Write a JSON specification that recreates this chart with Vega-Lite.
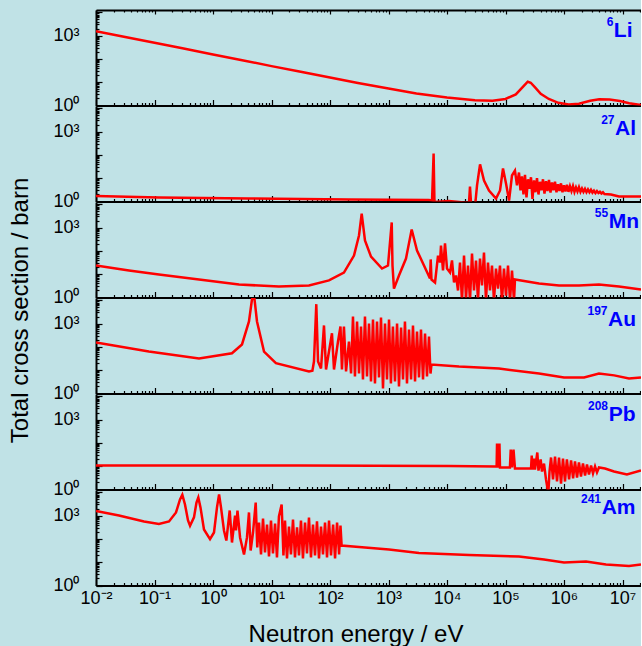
{
"$schema": "https://vega.github.io/schema/vega-lite/v6.json",
"background": "#c0e2e6",
"padding": {"left": 7, "top": 3, "right": 0, "bottom": 0},
"spacing": 0,
"bounds": "flush",
"config": {
  "font": "Liberation Sans",
  "view": {"stroke": null},
  "axis": {"domainColor": "#000000", "domainWidth": 2, "tickColor": "#000000", "tickWidth": 1.2, "grid": false, "labelFont": "Liberation Sans", "labelFontSize": 18, "labelColor": "#000000", "labelOverlap": false, "labelFlush": false, "labelBound": false, "titleFont": "Liberation Sans", "titleFontSize": 24, "titleFontWeight": "normal", "titleColor": "#000000"}
},
"datasets": {
"li": [{"E":0.01,"s":1550},{"E":0.03,"s":895},{"E":0.1,"s":490},{"E":0.3,"s":283},{"E":1,"s":155},{"E":3,"s":90},{"E":10,"s":49},{"E":30,"s":28.5},{"E":100,"s":15.8},{"E":300,"s":9.3},{"E":1000,"s":5.4},{"E":3000,"s":3.3},{"E":10000,"s":2.2},{"E":30000,"s":1.7},{"E":60000,"s":1.6},{"E":100000,"s":1.9},{"E":150000,"s":3.0},{"E":200000,"s":6.5},{"E":240000,"s":10.5},{"E":270000,"s":9.5},{"E":320000,"s":6},{"E":400000,"s":3.2},{"E":550000,"s":1.9},{"E":800000,"s":1.3},{"E":1200000,"s":1.1},{"E":1800000,"s":1.2},{"E":2800000,"s":1.6},{"E":4000000,"s":1.85},{"E":6000000,"s":1.8},{"E":9000000,"s":1.55},{"E":13000000,"s":1.25},{"E":20700000,"s":1.05}],
"al": [{"E":0.01,"s":1.72},{"E":0.119,"s":1.49},{"E":4.12,"s":1.35},{"E":211,"s":1.22},{"E":4900,"s":1.16},{"E":5550,"s":1.1},{"E":5900,"s":115},{"E":6100,"s":0.95},{"E":10800,"s":1.05},{"E":19500,"s":0.9},{"E":23800,"s":0.9},{"E":24700,"s":4.4},{"E":25700,"s":0.9},{"E":30100,"s":0.6},{"E":32600,"s":4.9},{"E":36700,"s":39},{"E":42900,"s":8},{"E":52200,"s":2.97},{"E":68900,"s":1.35},{"E":80600,"s":2.97},{"E":90600,"s":26},{"E":102000,"s":5.9},{"E":115000,"s":1.1},{"E":129000,"s":13},{"E":145000,"s":21},{"E":157000,"s":4.9},{"E":170000,"s":17.5},{"E":180300,"s":3},{"E":191300,"s":12},{"E":202900,"s":2},{"E":215200,"s":14},{"E":228300,"s":1.5},{"E":242200,"s":9},{"E":256900,"s":3.5},{"E":272500,"s":11},{"E":289100,"s":1.3},{"E":306700,"s":8},{"E":325300,"s":2.5},{"E":345100,"s":10},{"E":366100,"s":2},{"E":388300,"s":7},{"E":411900,"s":3},{"E":437000,"s":9},{"E":463500,"s":2.2},{"E":491700,"s":7.5},{"E":521600,"s":2.8},{"E":553300,"s":8.5},{"E":587000,"s":2.4},{"E":622700,"s":6.5},{"E":660500,"s":3},{"E":700700,"s":7},{"E":743300,"s":2.5},{"E":788500,"s":5.5},{"E":836400,"s":2.8},{"E":887300,"s":6},{"E":941200,"s":2.5},{"E":998400,"s":5},{"E":1059000,"s":2.7},{"E":1123000,"s":5.2},{"E":1192000,"s":2.6},{"E":1264000,"s":4.5},{"E":1341000,"s":2.8},{"E":1423000,"s":4.6},{"E":1509000,"s":2.6},{"E":1601000,"s":4},{"E":1698000,"s":2.7},{"E":1801000,"s":4.1},{"E":1911000,"s":2.6},{"E":2027000,"s":3.6},{"E":2150000,"s":2.6},{"E":2281000,"s":3.5},{"E":2420000,"s":2.5},{"E":2567000,"s":3.3},{"E":2723000,"s":2.5},{"E":2888000,"s":3.2},{"E":3064000,"s":2.4},{"E":3250000,"s":2.9},{"E":3448000,"s":2.3},{"E":3657000,"s":2.8},{"E":3880000,"s":2.3},{"E":4116000,"s":2.6},{"E":4366000,"s":2.2},{"E":4631000,"s":2.5},{"E":4913000,"s":2.1},{"E":6350000,"s":2.0},{"E":8700000,"s":1.64},{"E":12900000,"s":1.64},{"E":20700000,"s":1.64}],
"mn": [{"E":0.01,"s":23.6},{"E":0.0366,"s":14.4},{"E":0.119,"s":9.7},{"E":0.577,"s":5.9},{"E":2.78,"s":3.6},{"E":13.4,"s":2.96},{"E":43.7,"s":3.27},{"E":96,"s":5.4},{"E":173,"s":11.8},{"E":257,"s":63},{"E":313,"s":458},{"E":348,"s":4000},{"E":396,"s":280},{"E":502,"s":57},{"E":774,"s":17.5},{"E":980,"s":23.6},{"E":1135,"s":1660},{"E":1170,"s":23.6},{"E":1240,"s":2.4},{"E":1510,"s":8.8},{"E":1990,"s":47},{"E":2490,"s":830},{"E":3070,"s":104},{"E":4040,"s":23.6},{"E":5120,"s":6.5},{"E":5260,"s":43},{"E":5430,"s":5.9},{"E":6240,"s":4.4},{"E":7020,"s":63},{"E":7590,"s":31.7},{"E":7890,"s":170},{"E":8540,"s":14.4},{"E":9240,"s":208},{"E":10000,"s":17.5},{"E":11250,"s":11.8},{"E":12170,"s":38.8},{"E":13180,"s":4.4},{"E":14260,"s":8.8},{"E":15420,"s":2.0},{"E":16680,"s":31.7},{"E":18040,"s":0.74},{"E":19530,"s":63},{"E":21130,"s":0.9},{"E":22850,"s":23.6},{"E":24720,"s":0.74},{"E":26740,"s":77},{"E":28930,"s":2},{"E":31300,"s":38.8},{"E":33860,"s":0.74},{"E":36630,"s":47},{"E":39630,"s":3.27},{"E":42870,"s":85},{"E":46380,"s":0.74},{"E":50180,"s":31.7},{"E":54290,"s":2},{"E":58730,"s":23.6},{"E":63530,"s":0.74},{"E":68730,"s":17.5},{"E":74360,"s":2.4},{"E":80440,"s":23.6},{"E":87020,"s":0.74},{"E":94150,"s":17.5},{"E":101900,"s":1.2},{"E":110300,"s":23.6},{"E":119300,"s":0.74},{"E":129100,"s":14.4},{"E":139600,"s":0.74},{"E":145200,"s":5.9},{"E":374000,"s":4.0},{"E":822000,"s":3.27},{"E":1800000,"s":3.27},{"E":3960000,"s":3.6},{"E":8700000,"s":2.96},{"E":20700000,"s":2.2}],
"au": [{"E":0.01,"s":155},{"E":0.08,"s":63},{"E":0.577,"s":32},{"E":2.11,"s":53},{"E":3.13,"s":127},{"E":4.12,"s":1230},{"E":4.9,"s":30000},{"E":5.65,"s":1230},{"E":7.45,"s":63},{"E":11.9,"s":20},{"E":43.7,"s":8.8},{"E":50,"s":9.5},{"E":53.2,"s":23.6},{"E":58.3,"s":6800},{"E":62.4,"s":23.6},{"E":70.2,"s":11.8},{"E":78.9,"s":830},{"E":85.5,"s":10.7},{"E":108,"s":385},{"E":117,"s":10.7},{"E":137,"s":170},{"E":151,"s":750},{"E":160,"s":10.7},{"E":173,"s":750},{"E":188,"s":8.8},{"E":211,"s":170},{"E":229,"s":7.2},{"E":247,"s":2000},{"E":267,"s":5.4},{"E":290,"s":1230},{"E":313,"s":7.2},{"E":339,"s":750},{"E":366,"s":4.0},{"E":396,"s":2000},{"E":429,"s":5.4},{"E":464,"s":1000},{"E":502,"s":3.27},{"E":543,"s":1500},{"E":587,"s":2.7},{"E":636,"s":1230},{"E":688,"s":4.9},{"E":744,"s":1800},{"E":805,"s":1.64},{"E":871,"s":1000},{"E":942,"s":4.0},{"E":1020,"s":1500},{"E":1100,"s":2.7},{"E":1190,"s":750},{"E":1290,"s":3.27},{"E":1400,"s":1000},{"E":1510,"s":2.0},{"E":1640,"s":680},{"E":1770,"s":4.0},{"E":1910,"s":1230},{"E":2070,"s":2.7},{"E":2240,"s":560},{"E":2430,"s":4.0},{"E":2620,"s":830},{"E":2840,"s":3.27},{"E":3070,"s":458},{"E":3320,"s":4.9},{"E":3590,"s":560},{"E":3890,"s":4.0},{"E":4210,"s":375},{"E":4550,"s":5.4},{"E":4920,"s":280},{"E":5220,"s":7.2},{"E":5430,"s":17.6},{"E":16000,"s":14.4},{"E":77400,"s":11.8},{"E":374000,"s":7.2},{"E":1000000,"s":4.9},{"E":2200000,"s":4.9},{"E":3960000,"s":7.2},{"E":7200000,"s":6.0},{"E":12900000,"s":4.4},{"E":20700000,"s":4.9}],
"pb": [{"E":0.01,"s":10.7},{"E":29.5,"s":10.7},{"E":10800,"s":10.2},{"E":68900,"s":9.7},{"E":70500,"s":9.7},{"E":71600,"s":94},{"E":72500,"s":9.7},{"E":77500,"s":9.7},{"E":78800,"s":94},{"E":80500,"s":8.8},{"E":119000,"s":8.8},{"E":122800,"s":52},{"E":129000,"s":8.8},{"E":137000,"s":52},{"E":145000,"s":8},{"E":273000,"s":8},{"E":280600,"s":28.7},{"E":289700,"s":7.2},{"E":307000,"s":21},{"E":319000,"s":7.2},{"E":349700,"s":38.8},{"E":366000,"s":6.5},{"E":399000,"s":19.4},{"E":420000,"s":5.9},{"E":455000,"s":13},{"E":492000,"s":2.7},{"E":539000,"s":0.67},{"E":565000,"s":5.9},{"E":600000,"s":23.6},{"E":649000,"s":2.7},{"E":702000,"s":26},{"E":759000,"s":2.2},{"E":822000,"s":23.6},{"E":889000,"s":1.8},{"E":961000,"s":21.4},{"E":1040000,"s":2.2},{"E":1120000,"s":19.4},{"E":1220000,"s":2.7},{"E":1320000,"s":17.6},{"E":1430000,"s":3.0},{"E":1540000,"s":16},{"E":1670000,"s":3.27},{"E":1800000,"s":14.4},{"E":1950000,"s":3.6},{"E":2110000,"s":13},{"E":2290000,"s":4.0},{"E":2470000,"s":11.8},{"E":2670000,"s":4.4},{"E":2900000,"s":10.7},{"E":3130000,"s":4.9},{"E":3390000,"s":9.7},{"E":3660000,"s":5.4},{"E":3960000,"s":8.8},{"E":5020000,"s":8},{"E":7160000,"s":5.9},{"E":11900000,"s":4.4},{"E":20700000,"s":6.5}],
"am": [{"E":0.01,"s":1570},{"E":0.0247,"s":1000},{"E":0.0662,"s":560},{"E":0.119,"s":435},{"E":0.177,"s":560},{"E":0.233,"s":1360},{"E":0.273,"s":4900},{"E":0.299,"s":7800},{"E":0.332,"s":3000},{"E":0.374,"s":620},{"E":0.405,"s":366},{"E":0.473,"s":840},{"E":0.522,"s":3640},{"E":0.561,"s":5990},{"E":0.611,"s":2240},{"E":0.701,"s":253},{"E":0.889,"s":97},{"E":1.04,"s":188},{"E":1.17,"s":2240},{"E":1.27,"s":8100},{"E":1.37,"s":2240},{"E":1.54,"s":230},{"E":1.69,"s":85},{"E":1.93,"s":1650},{"E":2.11,"s":70},{"E":2.38,"s":1000},{"E":2.47,"s":230},{"E":2.62,"s":1650},{"E":2.9,"s":115},{"E":3.39,"s":21.4},{"E":3.81,"s":115},{"E":4.12,"s":1360},{"E":4.4,"s":31.7},{"E":4.83,"s":188},{"E":5.37,"s":3640},{"E":5.71,"s":42.8},{"E":6.11,"s":505},{"E":6.62,"s":21.4},{"E":7.16,"s":750},{"E":7.74,"s":26},{"E":8.38,"s":415},{"E":9.06,"s":17.6},{"E":9.8,"s":615},{"E":10.6,"s":23.6},{"E":11.5,"s":458},{"E":12.4,"s":15.9},{"E":13.4,"s":915},{"E":14.9,"s":3000},{"E":16.0,"s":19.4},{"E":17.0,"s":615},{"E":18.4,"s":14.4},{"E":19.9,"s":340},{"E":21.5,"s":21.4},{"E":23.3,"s":680},{"E":25.2,"s":15.9},{"E":27.3,"s":310},{"E":29.5,"s":19.4},{"E":31.9,"s":615},{"E":34.5,"s":14.4},{"E":37.4,"s":505},{"E":40.4,"s":23.6},{"E":43.7,"s":830},{"E":47.3,"s":15.9},{"E":51.2,"s":415},{"E":55.4,"s":19.4},{"E":59.9,"s":560},{"E":64.8,"s":14.4},{"E":70.2,"s":340},{"E":75.9,"s":21.4},{"E":82.2,"s":505},{"E":88.9,"s":15.9},{"E":96.2,"s":615},{"E":104,"s":19.4},{"E":113,"s":415},{"E":122,"s":14.4},{"E":132,"s":505},{"E":143,"s":21.4},{"E":151,"s":375},{"E":158,"s":52},{"E":313,"s":45},{"E":1020,"s":35},{"E":3320,"s":24.8},{"E":23800,"s":20.3},{"E":170000,"s":17.6},{"E":455000,"s":13},{"E":1000000,"s":9.7},{"E":2380000,"s":10.7},{"E":5220000,"s":8},{"E":12900000,"s":6.9},{"E":20700000,"s":8}]
},
"vconcat": [
{
 "width": 545, "height": 95.5,
 "data": {"name": "li"},
 "resolve": {"axis": {"x": "independent"}},
 "layer": [
  {"mark": {"type": "line", "color": "#ff0000", "strokeWidth": 2.5, "clip": true},
   "encoding": {
    "x": {"field": "E", "type": "quantitative", "scale": {"type": "log", "domain": [0.01, 20700000], "nice": false},
      "axis": {"orient": "bottom", "values": [0.01,0.02,0.03,0.04,0.05,0.06,0.07,0.08,0.09,0.1,0.2,0.3,0.4,0.5,0.6,0.7,0.8,0.9,1,2,3,4,5,6,7,8,9,10,20,30,40,50,60,70,80,90,100,200,300,400,500,600,700,800,900,1000,2000,3000,4000,5000,6000,7000,8000,9000,10000,20000,30000,40000,50000,60000,70000,80000,90000,100000,200000,300000,400000,500000,600000,700000,800000,900000,1000000,2000000,3000000,4000000,5000000,6000000,7000000,8000000,9000000,10000000,20000000], "labels": false, "title": null,
        "tickSize": {"condition": {"test": "abs(log(datum.value)/LN10 - round(log(datum.value)/LN10)) < 0.001", "value": -6}, "value": -3}}},
    "y": {"field": "s", "type": "quantitative", "scale": {"type": "log", "domain": [1, 12500], "nice": false},
      "axis": {"orient": "left", "values": [1,2,3,4,5,6,7,8,9,10,20,30,40,50,60,70,80,90,100,200,300,400,500,600,700,800,900,1000,2000,3000,4000,5000,6000,7000,8000,9000,10000], "labelExpr": "datum.value == 1 ? '10⁰' : datum.value == 1000 ? '10³' : ''", "labelPadding": 23, "title": null,
        "tickSize": {"condition": {"test": "abs(log(datum.value)/LN10 - round(log(datum.value)/LN10)) < 0.001", "value": -6}, "value": -3}}}
   }},
  {"data": {"values": [{}]},
   "mark": {"type": "text", "align": "right", "baseline": "alphabetic", "fontWeight": "bold", "fontSize": 21, "color": "#0000ff"},
   "encoding": {
    "x": {"datum": 14800000, "type": "quantitative",
      "axis": {"orient": "top", "values": [0.01,0.02,0.03,0.04,0.05,0.06,0.07,0.08,0.09,0.1,0.2,0.3,0.4,0.5,0.6,0.7,0.8,0.9,1,2,3,4,5,6,7,8,9,10,20,30,40,50,60,70,80,90,100,200,300,400,500,600,700,800,900,1000,2000,3000,4000,5000,6000,7000,8000,9000,10000,20000,30000,40000,50000,60000,70000,80000,90000,100000,200000,300000,400000,500000,600000,700000,800000,900000,1000000,2000000,3000000,4000000,5000000,6000000,7000000,8000000,9000000,10000000,20000000], "labels": false, "title": null,
        "tickSize": {"condition": {"test": "abs(log(datum.value)/LN10 - round(log(datum.value)/LN10)) < 0.001", "value": -4}, "value": -2}}},
    "y": {"datum": 871, "type": "quantitative", "title": null},
    "text": {"value": "Li"}}},
  {"data": {"values": [{}]},
   "mark": {"type": "text", "align": "right", "baseline": "alphabetic", "fontWeight": "bold", "fontSize": 12, "color": "#0000ff", "dx": -19, "dy": -11},
   "encoding": {
    "x": {"datum": 14800000, "type": "quantitative", "axis": null},
    "y": {"datum": 871, "type": "quantitative", "title": null},
    "text": {"value": "6"}}}
 ]
},
{
 "width": 545, "height": 95.5,
 "data": {"name": "al"},
 "layer": [
  {"mark": {"type": "line", "color": "#ff0000", "strokeWidth": 2.5, "clip": true},
   "encoding": {
    "x": {"field": "E", "type": "quantitative", "scale": {"type": "log", "domain": [0.01, 20700000], "nice": false},
      "axis": {"orient": "bottom", "values": [0.01,0.02,0.03,0.04,0.05,0.06,0.07,0.08,0.09,0.1,0.2,0.3,0.4,0.5,0.6,0.7,0.8,0.9,1,2,3,4,5,6,7,8,9,10,20,30,40,50,60,70,80,90,100,200,300,400,500,600,700,800,900,1000,2000,3000,4000,5000,6000,7000,8000,9000,10000,20000,30000,40000,50000,60000,70000,80000,90000,100000,200000,300000,400000,500000,600000,700000,800000,900000,1000000,2000000,3000000,4000000,5000000,6000000,7000000,8000000,9000000,10000000,20000000], "labels": false, "title": null,
        "tickSize": {"condition": {"test": "abs(log(datum.value)/LN10 - round(log(datum.value)/LN10)) < 0.001", "value": -6}, "value": -3}}},
    "y": {"field": "s", "type": "quantitative", "scale": {"type": "log", "domain": [1, 12500], "nice": false},
      "axis": {"orient": "left", "values": [1,2,3,4,5,6,7,8,9,10,20,30,40,50,60,70,80,90,100,200,300,400,500,600,700,800,900,1000,2000,3000,4000,5000,6000,7000,8000,9000,10000], "labelExpr": "datum.value == 1 ? '10⁰' : datum.value == 1000 ? '10³' : ''", "labelPadding": 23, "title": null,
        "tickSize": {"condition": {"test": "abs(log(datum.value)/LN10 - round(log(datum.value)/LN10)) < 0.001", "value": -6}, "value": -3}}}
   }},
  {"data": {"values": [{}]},
   "mark": {"type": "text", "align": "right", "baseline": "alphabetic", "fontWeight": "bold", "fontSize": 21, "color": "#0000ff"},
   "encoding": {"x": {"datum": 17000000, "type": "quantitative", "title": null}, "y": {"datum": 680, "type": "quantitative", "title": null}, "text": {"value": "Al"}}},
  {"data": {"values": [{}]},
   "mark": {"type": "text", "align": "right", "baseline": "alphabetic", "fontWeight": "bold", "fontSize": 12, "color": "#0000ff", "dx": -21.5, "dy": -11},
   "encoding": {"x": {"datum": 17000000, "type": "quantitative", "title": null}, "y": {"datum": 680, "type": "quantitative", "title": null}, "text": {"value": "27"}}}
 ]
},
{
 "width": 545, "height": 95.5,
 "data": {"name": "mn"},
 "layer": [
  {"mark": {"type": "line", "color": "#ff0000", "strokeWidth": 2.5, "clip": true},
   "encoding": {
    "x": {"field": "E", "type": "quantitative", "scale": {"type": "log", "domain": [0.01, 20700000], "nice": false},
      "axis": {"orient": "bottom", "values": [0.01,0.02,0.03,0.04,0.05,0.06,0.07,0.08,0.09,0.1,0.2,0.3,0.4,0.5,0.6,0.7,0.8,0.9,1,2,3,4,5,6,7,8,9,10,20,30,40,50,60,70,80,90,100,200,300,400,500,600,700,800,900,1000,2000,3000,4000,5000,6000,7000,8000,9000,10000,20000,30000,40000,50000,60000,70000,80000,90000,100000,200000,300000,400000,500000,600000,700000,800000,900000,1000000,2000000,3000000,4000000,5000000,6000000,7000000,8000000,9000000,10000000,20000000], "labels": false, "title": null,
        "tickSize": {"condition": {"test": "abs(log(datum.value)/LN10 - round(log(datum.value)/LN10)) < 0.001", "value": -6}, "value": -3}}},
    "y": {"field": "s", "type": "quantitative", "scale": {"type": "log", "domain": [1, 12500], "nice": false},
      "axis": {"orient": "left", "values": [1,2,3,4,5,6,7,8,9,10,20,30,40,50,60,70,80,90,100,200,300,400,500,600,700,800,900,1000,2000,3000,4000,5000,6000,7000,8000,9000,10000], "labelExpr": "datum.value == 1 ? '10⁰' : datum.value == 1000 ? '10³' : ''", "labelPadding": 23,
        "title": "Total cross section / barn", "titleAngle": 270, "titleX": -69, "titleY": 108, "titleBaseline": "alphabetic", "titleAlign": "center",
        "tickSize": {"condition": {"test": "abs(log(datum.value)/LN10 - round(log(datum.value)/LN10)) < 0.001", "value": -6}, "value": -3}}}
   }},
  {"data": {"values": [{}]},
   "mark": {"type": "text", "align": "right", "baseline": "alphabetic", "fontWeight": "bold", "fontSize": 21, "color": "#0000ff"},
   "encoding": {"x": {"datum": 19200000, "type": "quantitative", "title": null}, "y": {"datum": 990, "type": "quantitative", "title": null}, "text": {"value": "Mn"}}},
  {"data": {"values": [{}]},
   "mark": {"type": "text", "align": "right", "baseline": "alphabetic", "fontWeight": "bold", "fontSize": 12, "color": "#0000ff", "dx": -31, "dy": -11},
   "encoding": {"x": {"datum": 19200000, "type": "quantitative", "title": null}, "y": {"datum": 990, "type": "quantitative", "title": null}, "text": {"value": "55"}}}
 ]
},
{
 "width": 545, "height": 95.5,
 "data": {"name": "au"},
 "layer": [
  {"mark": {"type": "line", "color": "#ff0000", "strokeWidth": 2.5, "clip": true},
   "encoding": {
    "x": {"field": "E", "type": "quantitative", "scale": {"type": "log", "domain": [0.01, 20700000], "nice": false},
      "axis": {"orient": "bottom", "values": [0.01,0.02,0.03,0.04,0.05,0.06,0.07,0.08,0.09,0.1,0.2,0.3,0.4,0.5,0.6,0.7,0.8,0.9,1,2,3,4,5,6,7,8,9,10,20,30,40,50,60,70,80,90,100,200,300,400,500,600,700,800,900,1000,2000,3000,4000,5000,6000,7000,8000,9000,10000,20000,30000,40000,50000,60000,70000,80000,90000,100000,200000,300000,400000,500000,600000,700000,800000,900000,1000000,2000000,3000000,4000000,5000000,6000000,7000000,8000000,9000000,10000000,20000000], "labels": false, "title": null,
        "tickSize": {"condition": {"test": "abs(log(datum.value)/LN10 - round(log(datum.value)/LN10)) < 0.001", "value": -6}, "value": -3}}},
    "y": {"field": "s", "type": "quantitative", "scale": {"type": "log", "domain": [1, 12500], "nice": false},
      "axis": {"orient": "left", "values": [1,2,3,4,5,6,7,8,9,10,20,30,40,50,60,70,80,90,100,200,300,400,500,600,700,800,900,1000,2000,3000,4000,5000,6000,7000,8000,9000,10000], "labelExpr": "datum.value == 1 ? '10⁰' : datum.value == 1000 ? '10³' : ''", "labelPadding": 23, "title": null,
        "tickSize": {"condition": {"test": "abs(log(datum.value)/LN10 - round(log(datum.value)/LN10)) < 0.001", "value": -6}, "value": -3}}}
   }},
  {"data": {"values": [{}]},
   "mark": {"type": "text", "align": "right", "baseline": "alphabetic", "fontWeight": "bold", "fontSize": 21, "color": "#0000ff"},
   "encoding": {"x": {"datum": 17000000, "type": "quantitative", "title": null}, "y": {"datum": 750, "type": "quantitative", "title": null}, "text": {"value": "Au"}}},
  {"data": {"values": [{}]},
   "mark": {"type": "text", "align": "right", "baseline": "alphabetic", "fontWeight": "bold", "fontSize": 12, "color": "#0000ff", "dx": -28.5, "dy": -11},
   "encoding": {"x": {"datum": 17000000, "type": "quantitative", "title": null}, "y": {"datum": 750, "type": "quantitative", "title": null}, "text": {"value": "197"}}}
 ]
},
{
 "width": 545, "height": 95.5,
 "data": {"name": "pb"},
 "layer": [
  {"mark": {"type": "line", "color": "#ff0000", "strokeWidth": 2.5, "clip": true},
   "encoding": {
    "x": {"field": "E", "type": "quantitative", "scale": {"type": "log", "domain": [0.01, 20700000], "nice": false},
      "axis": {"orient": "bottom", "values": [0.01,0.02,0.03,0.04,0.05,0.06,0.07,0.08,0.09,0.1,0.2,0.3,0.4,0.5,0.6,0.7,0.8,0.9,1,2,3,4,5,6,7,8,9,10,20,30,40,50,60,70,80,90,100,200,300,400,500,600,700,800,900,1000,2000,3000,4000,5000,6000,7000,8000,9000,10000,20000,30000,40000,50000,60000,70000,80000,90000,100000,200000,300000,400000,500000,600000,700000,800000,900000,1000000,2000000,3000000,4000000,5000000,6000000,7000000,8000000,9000000,10000000,20000000], "labels": false, "title": null,
        "tickSize": {"condition": {"test": "abs(log(datum.value)/LN10 - round(log(datum.value)/LN10)) < 0.001", "value": -6}, "value": -3}}},
    "y": {"field": "s", "type": "quantitative", "scale": {"type": "log", "domain": [1, 12500], "nice": false},
      "axis": {"orient": "left", "values": [1,2,3,4,5,6,7,8,9,10,20,30,40,50,60,70,80,90,100,200,300,400,500,600,700,800,900,1000,2000,3000,4000,5000,6000,7000,8000,9000,10000], "labelExpr": "datum.value == 1 ? '10⁰' : datum.value == 1000 ? '10³' : ''", "labelPadding": 23, "title": null,
        "tickSize": {"condition": {"test": "abs(log(datum.value)/LN10 - round(log(datum.value)/LN10)) < 0.001", "value": -6}, "value": -3}}}
   }},
  {"data": {"values": [{}]},
   "mark": {"type": "text", "align": "right", "baseline": "alphabetic", "fontWeight": "bold", "fontSize": 21, "color": "#0000ff"},
   "encoding": {"x": {"datum": 16700000, "type": "quantitative", "title": null}, "y": {"datum": 871, "type": "quantitative", "title": null}, "text": {"value": "Pb"}}},
  {"data": {"values": [{}]},
   "mark": {"type": "text", "align": "right", "baseline": "alphabetic", "fontWeight": "bold", "fontSize": 12, "color": "#0000ff", "dx": -27.5, "dy": -11},
   "encoding": {"x": {"datum": 16700000, "type": "quantitative", "title": null}, "y": {"datum": 871, "type": "quantitative", "title": null}, "text": {"value": "208"}}}
 ]
},
{
 "width": 545, "height": 95.5,
 "data": {"name": "am"},
 "layer": [
  {"mark": {"type": "line", "color": "#ff0000", "strokeWidth": 2.5, "clip": true},
   "encoding": {
    "x": {"field": "E", "type": "quantitative", "scale": {"type": "log", "domain": [0.01, 20700000], "nice": false},
      "axis": {"orient": "bottom", "values": [0.01,0.02,0.03,0.04,0.05,0.06,0.07,0.08,0.09,0.1,0.2,0.3,0.4,0.5,0.6,0.7,0.8,0.9,1,2,3,4,5,6,7,8,9,10,20,30,40,50,60,70,80,90,100,200,300,400,500,600,700,800,900,1000,2000,3000,4000,5000,6000,7000,8000,9000,10000,20000,30000,40000,50000,60000,70000,80000,90000,100000,200000,300000,400000,500000,600000,700000,800000,900000,1000000,2000000,3000000,4000000,5000000,6000000,7000000,8000000,9000000,10000000,20000000],
        "labelExpr": "abs(log(datum.value)/LN10 - round(log(datum.value)/LN10)) < 0.001 ? '10' + ['⁻²','⁻¹','⁰','¹','²','³','⁴','⁵','⁶','⁷'][round(log(datum.value)/LN10) + 2] : ''",
        "labelPadding": 10,
        "title": "Neutron energy / eV", "titleX": 259.5, "titleY": 56, "titleBaseline": "alphabetic", "titleAlign": "center",
        "tickSize": {"condition": {"test": "abs(log(datum.value)/LN10 - round(log(datum.value)/LN10)) < 0.001", "value": -6}, "value": -3}}},
    "y": {"field": "s", "type": "quantitative", "scale": {"type": "log", "domain": [1, 12500], "nice": false},
      "axis": {"orient": "left", "values": [1,2,3,4,5,6,7,8,9,10,20,30,40,50,60,70,80,90,100,200,300,400,500,600,700,800,900,1000,2000,3000,4000,5000,6000,7000,8000,9000,10000], "labelExpr": "datum.value == 1 ? '10⁰' : datum.value == 1000 ? '10³' : ''", "labelPadding": 23, "title": null,
        "tickSize": {"condition": {"test": "abs(log(datum.value)/LN10 - round(log(datum.value)/LN10)) < 0.001", "value": -6}, "value": -3}}}
   }},
  {"data": {"values": [{}]},
   "mark": {"type": "text", "align": "right", "baseline": "alphabetic", "fontWeight": "bold", "fontSize": 21, "color": "#0000ff"},
   "encoding": {"x": {"datum": 16700000, "type": "quantitative", "title": null}, "y": {"datum": 1115, "type": "quantitative", "title": null}, "text": {"value": "Am"}}},
  {"data": {"values": [{}]},
   "mark": {"type": "text", "align": "right", "baseline": "alphabetic", "fontWeight": "bold", "fontSize": 12, "color": "#0000ff", "dx": -34.5, "dy": -11},
   "encoding": {"x": {"datum": 16700000, "type": "quantitative", "title": null}, "y": {"datum": 1115, "type": "quantitative", "title": null}, "text": {"value": "241"}}}
 ]
}
]
}
